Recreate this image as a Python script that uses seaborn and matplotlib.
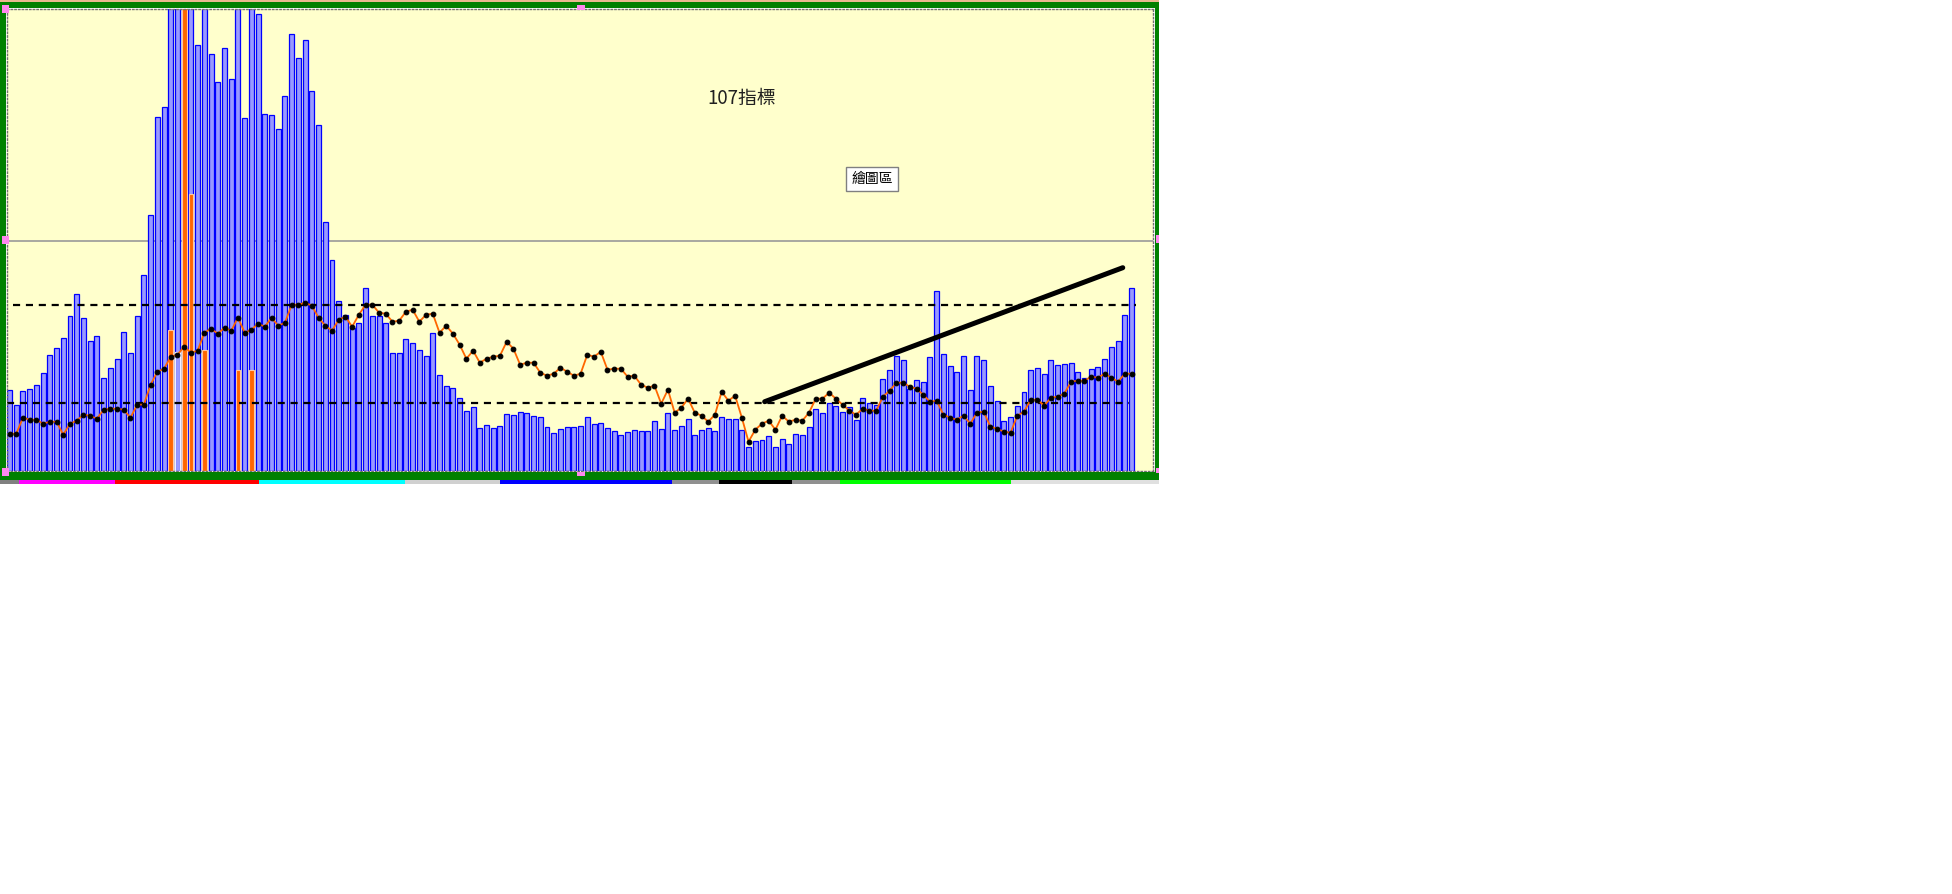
import numpy as np
import pandas as pd
import seaborn as sns
import matplotlib.pyplot as plt
from matplotlib.patches import Rectangle

# bar heights (index units), 168 periods; 470 = beyond the top of the chart
bar_vals = [81, 66, 80, 82, 86, 98, 116, 123, 133, 155, 177, 153, 130, 135, 93, 103, 112, 139, 118, 155,
            196, 256, 354, 364, 470, 470, 470, 470, 426, 470, 417, 389, 423, 392, 470, 353, 470, 457, 357, 356,
            342, 375, 437, 413, 431, 380, 346, 249, 211, 170, 156, 143, 148, 183, 155, 155, 148, 118, 118, 132,
            128, 121, 115, 138, 96, 85, 83, 73, 60, 64, 43, 46, 43, 45, 57, 56, 59, 58, 55, 54,
            44, 38, 42, 44, 44, 45, 54, 47, 48, 43, 40, 36, 39, 41, 40, 40, 50, 42, 58, 41,
            45, 52, 36, 41, 43, 40, 54, 52, 52, 41, 24, 30, 31, 35, 24, 32, 27, 37, 36, 44,
            62, 58, 68, 65, 59, 64, 51, 73, 68, 66, 92, 101, 115, 111, 82, 91, 89, 114, 180, 117,
            105, 99, 115, 81, 115, 111, 85, 70, 50, 54, 65, 79, 101, 103, 97, 111, 106, 107, 108, 99,
            93, 102, 104, 112, 124, 130, 156, 183]

# index line (orange with black dots)
line_vals = [37, 37, 53, 51, 51, 47, 49, 49, 36, 47, 50, 56, 55, 52, 61, 62, 62, 61, 53, 66,
             66, 86, 99, 102, 114, 116, 124, 118, 120, 138, 142, 137, 143, 140, 153, 138, 141, 147, 144, 153,
             145, 148, 166, 166, 168, 165, 153, 145, 140, 151, 154, 144, 156, 166, 166, 158, 157, 149, 150, 159,
             161, 149, 156, 157, 138, 145, 137, 126, 112, 120, 108, 112, 114, 115, 129, 122, 106, 108, 108, 98,
             95, 97, 103, 99, 95, 97, 116, 114, 119, 101, 102, 102, 94, 95, 86, 83, 85, 67, 81, 58,
             63, 72, 58, 55, 49, 56, 79, 70, 75, 53, 29, 41, 47, 50, 41, 55, 49, 51, 50, 58,
             72, 72, 78, 72, 66, 60, 56, 62, 60, 60, 74, 80, 88, 88, 84, 82, 76, 69, 70, 56,
             53, 51, 55, 47, 58, 59, 44, 42, 39, 38, 55, 59, 71, 71, 65, 73, 74, 77, 89, 90,
             90, 94, 93, 97, 93, 89, 97, 97]

# orange overlay bars (period index -> height)
orange_idx = [24, 26, 27, 29, 34, 36]
orange_vals = [141, 470, 277, 121, 101, 101]
ghost_idx = [25]
ghost_vals = [119]

# reference lines
dash_levels = [166, 68]
dash_start = [0.5, -0.42]
dash_end = [167.6, 166.7]
grid_level = 229.5

# trend line
trend_x = [112.4, 165.7]
trend_y = [69, 203]

W, H = 1952, 894
plt.rcParams['font.family'] = ['Noto Sans CJK TC', 'DejaVu Sans']

fig = plt.figure(figsize=(W / 100, H / 100), dpi=100)
fig.patch.set_facecolor('white')

# plot area in pixels
x0, x1, y0, y1 = 6.7, 1153, 9.3, 470.7
ax = fig.add_axes([x0 / W, 1 - y1 / H, (x1 - x0) / W, (y1 - y0) / H])
ax.set_facecolor('#FFFFCC')

n = len(bar_vals)
df = pd.DataFrame({'t': np.arange(n), 'bar': bar_vals, 'idx': line_vals})
df_o = pd.DataFrame({'t': orange_idx, 'v': orange_vals})
df_g = pd.DataFrame({'t': ghost_idx, 'v': ghost_vals})

ax.axhline(grid_level, color='#999999', lw=1.2, zorder=0.5)

sns.barplot(data=df, x='t', y='bar', native_scale=True, color='#9999FF', saturation=1,
            edgecolor='#0000FF', linewidth=0.9, width=0.74, errorbar=None, ax=ax, zorder=1)
sns.barplot(data=df_o, x='t', y='v', native_scale=True, color='#FF6600', saturation=1,
            edgecolor='#FFC8A8', linewidth=0.8, width=0.7, errorbar=None, ax=ax, zorder=1.2)
sns.barplot(data=df_g, x='t', y='v', native_scale=True, color='#F4F0FF', saturation=1,
            fill=False, linewidth=0.9, width=0.7, errorbar=None, ax=ax, zorder=1.2)

for lv, s, e in zip(dash_levels, dash_start, dash_end):
    ax.hlines(lv, s, e, colors='black', lw=1.6, linestyles=(0, (3.2, 2.6)), zorder=2.5)

sns.lineplot(data=df, x='t', y='idx', color='#FF6600', lw=1.3, marker='o', markersize=3.4,
             markerfacecolor='black', markeredgecolor='black', ax=ax, zorder=3)

ax.plot(trend_x, trend_y, color='black', lw=3.6, solid_capstyle='round', zorder=4)

ax.set_xlim(-0.42, 170.2)
ax.set_ylim(0, 461.4)
ax.set_xticks([])
ax.set_yticks([])
ax.set_xlabel('')
ax.set_ylabel('')
for sp in ax.spines.values():
    sp.set_color('#707070')
    sp.set_linestyle(':')
    sp.set_linewidth(1)

ax.text(0.641, 0.806, '107指標', transform=ax.transAxes, ha='center', va='center',
        fontsize=13.5, color='#202020')
ax.text(0.755, 0.632, '繪圖區', transform=ax.transAxes, ha='center', va='center',
        fontsize=10, color='black',
        bbox=dict(boxstyle='square,pad=0.35', fc='white', ec='#808080', lw=1))


def px_rect(a, b, c, d, color):
    fig.add_artist(Rectangle((a / W, 1 - d / H), (c - a) / W, (d - b) / H,
                             transform=fig.transFigure, facecolor=color,
                             edgecolor='none', zorder=5))


# green frame
px_rect(0, 0, 1159, 2, '#E8B890')
px_rect(0, 2, 1159, 8, '#008000')
px_rect(0, 472, 1159, 480.5, '#008000')
px_rect(0, 2, 6, 480.5, '#008000')
px_rect(1154.5, 2, 1159, 480.5, '#008000')

# colour strip under the frame
strip = [(0, 19, '#808080'), (19, 115, '#FF00FF'), (115, 259, '#FF0000'), (259, 405, '#00FFFF'),
         (405, 500, '#D0D0D0'), (500, 672, '#0000FF'), (672, 719, '#909090'), (719, 792, '#000000'),
         (792, 840, '#909090'), (840, 1011, '#00FF00'), (1011, 1159, '#E0E0E0')]
for a, c, col in strip:
    px_rect(a, 480.5, c, 484, col)

# selection handles
for a, b, c, d in [(2, 5, 9, 12.5), (2, 236, 9, 244), (2, 468, 9, 476),
                   (577, 5, 585, 10), (577, 471.5, 585, 476),
                   (1156, 235, 1159, 243), (1156, 468, 1159, 473)]:
    px_rect(a, b, c, d, '#FF88EE')

fig.savefig('out.png', dpi=100, facecolor='white')
